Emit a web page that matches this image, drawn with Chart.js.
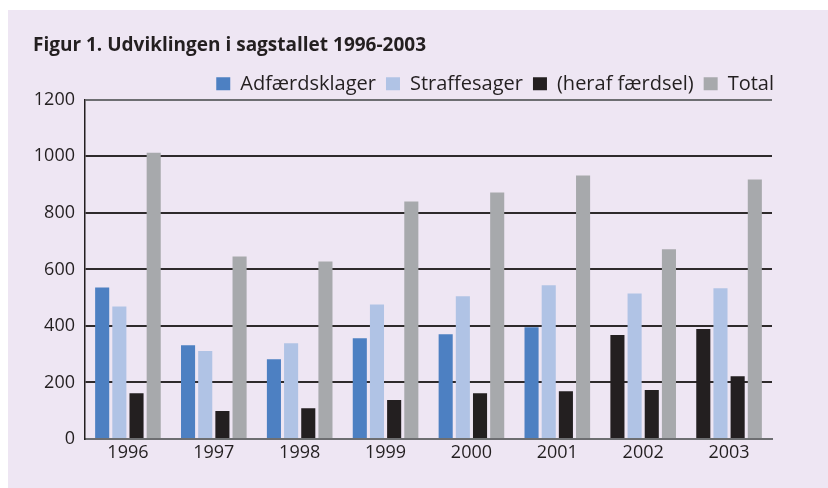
<!DOCTYPE html>
<html>
<head>
<meta charset="utf-8">
<script src="https://cdn.jsdelivr.net/npm/chart.js@4.4.1/dist/chart.umd.min.js"></script>
<style>
  body { margin: 0; background: #ffffff; }
  #panel { position: absolute; left: 8px; top: 10px; width: 820px; height: 478px; background: #eee6f3; }
</style>
</head>
<body>
<div id="panel"><canvas id="chart" width="820" height="478"></canvas></div>
<script>
const years = ['1996', '1997', '1998', '1999', '2000', '2001', '2002', '2003'];
const adfaerdsklager = [536, 332, 282, 356, 371, 395, 368, 389];
const straffesager = [469, 311, 339, 476, 505, 544, 515, 533];
const faerdsel = [162, 99, 109, 138, 162, 169, 173, 222];
const total = [1013, 646, 628, 840, 872, 932, 671, 918];
const yTicks = [0, 200, 400, 600, 800, 1000, 1200];

const ink = '#231f20';
const blue = '#4d80c2';
// in the original the 2002 and 2003 bars of the first series are printed black
const blueBars = years.map(y => (y === '2002' || y === '2003') ? ink : blue);

// legend sits a bit further right (and lower) than the layout puts it
const legendShift = {
    id: 'legendShift',
    beforeDraw(chart) {
        const L = chart.legend;
        const dx = 776 - L.right;
        L.left += dx;
        L.right += dx;
        if (!L._moved) {
            L.top += 4;
            L.bottom += 4;
            L._moved = true;
        }
    }
};

const ctx = document.getElementById('chart');

const myChart = new Chart(ctx, {
    type: 'bar',
    data: {
        labels: years,
        datasets: [
            { label: 'Adfærdsklager', data: adfaerdsklager, backgroundColor: blueBars },
            { label: 'Straffesager', data: straffesager, backgroundColor: '#b0c3e5' },
            { label: '(heraf færdsel)', data: faerdsel, backgroundColor: ink },
            { label: 'Total', data: total, backgroundColor: '#a7a9ac' }
        ]
    },
    plugins: [legendShift],
    options: {
        responsive: false,
        animation: false,
        layout: { padding: { left: 25, right: 56, top: 0, bottom: 0 } },
        datasets: { bar: { barPercentage: 0.82, categoryPercentage: 0.8 } },
        plugins: {
            title: {
                display: true,
                text: 'Figur 1. Udviklingen i sagstallet 1996-2003',
                align: 'start',
                color: ink,
                font: { family: '"Open Sans", sans-serif', size: 19, weight: 'bold' },
                padding: { top: 24, bottom: 3 }
            },
            legend: {
                position: 'top',
                align: 'end',
                labels: {
                    color: ink,
                    boxWidth: 14,
                    boxHeight: 13,
                    padding: 10,
                    font: { family: '"Open Sans", sans-serif', size: 20 },
                    generateLabels: chart => chart.data.datasets.map((ds, i) => ({
                        text: ds.label,
                        fillStyle: i === 0 ? blue : ds.backgroundColor,
                        strokeStyle: 'rgba(0,0,0,0)',
                        lineWidth: 0,
                        fontColor: ink,
                        datasetIndex: i
                    }))
                }
            },
            tooltip: { enabled: false }
        },
        scales: {
            x: {
                grid: { display: false, drawTicks: false },
                border: { color: '#6d6e71', width: 2 },
                ticks: { color: ink, padding: 3, font: { family: '"Open Sans", sans-serif', size: 18 } },
                afterFit: s => { s.height = 49; }
            },
            y: {
                min: 0,
                max: 1200,
                afterBuildTicks: s => { s.ticks = yTicks.map(v => ({ value: v })); },
                grid: {
                    drawTicks: false,
                    lineWidth: 2,
                    color: c => (c.tick.value === 1200 || c.tick.value === 0) ? '#6d6e71' : '#2e2a2b'
                },
                border: { color: ink, width: 1.5 },
                ticks: {
                    color: ink,
                    padding: 10,
                    font: { family: '"Open Sans", sans-serif', size: 18 },
                    callback: v => String(v)
                },
                afterFit: s => { s.width = 52; }
            }
        }
    }
});
</script>
</body>
</html>
